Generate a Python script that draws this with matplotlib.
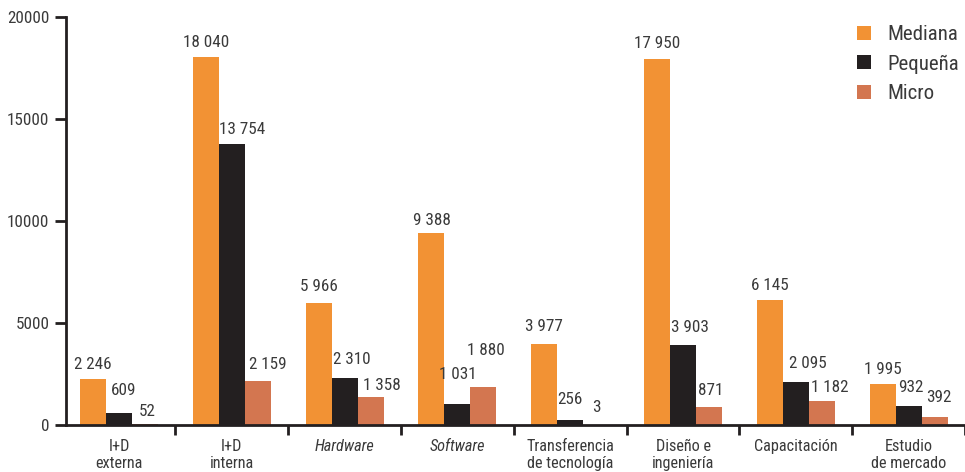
import matplotlib
matplotlib.use("Agg")
import matplotlib.pyplot as plt
from matplotlib import font_manager as fm
from matplotlib.patches import Patch
from matplotlib.transforms import offset_copy
import numpy as np

categories = ["I+D\nexterna", "I+D\ninterna", "Hardware", "Software",
              "Transferencia\nde tecnología", "Diseño e\ningeniería",
              "Capacitación", "Estudio\nde mercado"]
italic_categories = ["Hardware", "Software"]

series_names = ["Mediana", "Pequeña", "Micro"]
mediana = [2246, 18040, 5966, 9388, 3977, 17950, 6145, 1995]
pequena = [609, 13754, 2310, 1031, 256, 3903, 2095, 932]
micro = [52, 2159, 1358, 1880, 3, 871, 1182, 392]

yticks = [0, 5000, 10000, 15000, 20000]

# label placement: vertical gap (px) from bar top to label centre, and
# horizontal nudge (px) from the bar centre
label_gap_px = [
    [15, 14, 17, 13, 17, 15, 14, 15],
    [22, 15, 18, 29, 20, 18, 19, 18],
    [12, 16, 12, 36, 17, 17, 13, 20],
]
label_dx_px = [
    [0, 0, 0, 0, 0, 0, 0, 0],
    [5, 10, 7, 0, 0, 7, 12, 2],
    [2, 10, 11, 3, 0, 2, 8, 4],
]

colors = ["#F29234", "#231F20", "#D37650"]
text_color = "#3A3A3A"
axis_color = "#231F20"

# pick a narrow sans face if one is available
installed_names = {f.name for f in fm.fontManager.ttflist}
if "Liberation Sans Narrow" in installed_names:
    family, base, scale = ["Liberation Sans Narrow", "DejaVu Sans"], 13, 1.0
elif "Roboto Condensed" in installed_names:
    family, base, scale = ["Roboto Condensed", "DejaVu Sans"], 12.3, 1.0
else:
    family, base, scale = ["Liberation Sans", "DejaVu Sans"], 11, 0.9
plt.rcParams['font.family'] = family

W, H, DPI = 965, 472, 100
fig = plt.figure(figsize=(W / DPI, H / DPI), dpi=DPI)
ax = fig.add_axes([66 / W, 1 - 425 / H, (965 - 66) / W, (425 - 17) / H])

x = np.arange(len(categories))
bw = 0.23
values = [mediana, pequena, micro]
for i, (vals, col, name) in enumerate(zip(values, colors, series_names)):
    xs = x + (i - 1) * bw
    ax.bar(xs, vals, width=bw, color=col, label=name, zorder=1)
    for xi, v, gap, dx in zip(xs, vals, label_gap_px[i], label_dx_px[i]):
        trans = offset_copy(ax.transData, fig=fig, x=dx, y=gap, units='dots')
        ax.text(xi, v, f"{v:,}".replace(",", " "), transform=trans,
                ha='center', va='center', fontsize=base, color=text_color)

ax.set_xlim(-0.47, 7.5)
ax.set_ylim(0, 20000)

for s in ['top', 'right']:
    ax.spines[s].set_visible(False)
for s in ['left', 'bottom']:
    ax.spines[s].set_linewidth(2)
    ax.spines[s].set_color(axis_color)
    ax.spines[s].set_zorder(3)

ax.set_yticks(yticks)
ax.set_yticklabels([str(t) for t in yticks])
ax.tick_params(axis='y', length=8, width=2, color=axis_color, pad=4,
               labelsize=base, labelcolor=text_color)

ax.set_xticks(x)
ax.set_xticklabels(categories, linespacing=1.2)
for lbl in ax.get_xticklabels():
    if lbl.get_text() in italic_categories:
        lbl.set_fontstyle('italic')
ax.tick_params(axis='x', which='major', length=0, pad=10,
               labelsize=base * 0.95 * scale, labelcolor=text_color)
ax.set_xticks(np.arange(0.5, len(categories), 1.0), minor=True)
ax.tick_params(axis='x', which='minor', length=7, width=2, color=axis_color)

handles = [Patch(facecolor=c, edgecolor='none') for c in colors]
leg_fs = base * 1.22 * scale
leg = ax.legend(handles, series_names, loc='upper left',
                bbox_to_anchor=(857 / W, 1 - 25 / H), bbox_transform=fig.transFigure,
                frameon=False, fontsize=leg_fs, handlelength=0.68, handleheight=0.68,
                handletextpad=0.8, labelspacing=0.5, borderaxespad=0, borderpad=0)
for t in leg.get_texts():
    t.set_color(text_color)

fig.savefig("out.png", dpi=DPI)
